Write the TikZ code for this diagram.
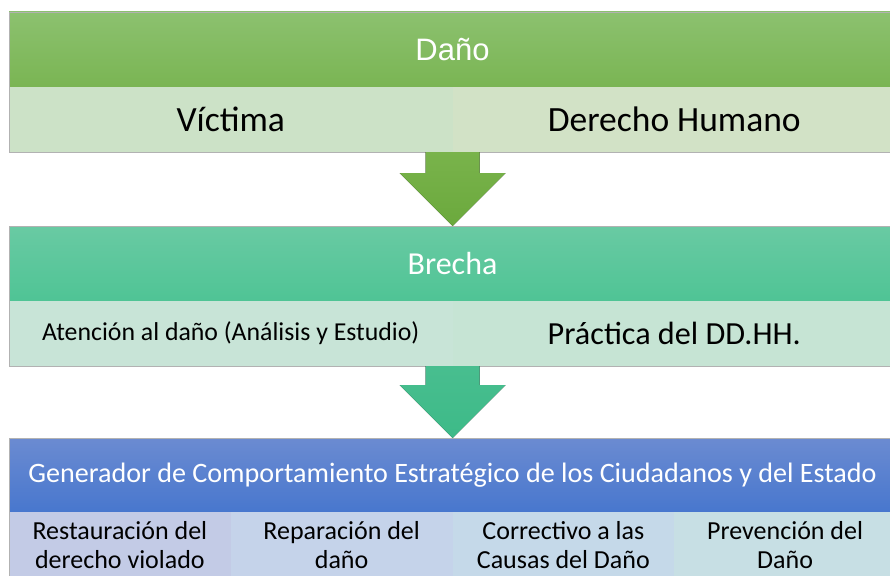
\documentclass[tikz,border=0pt]{standalone}
\usepackage{fontspec}
\setmainfont{Carlito}
\newfontfamily\arialfont{Liberation Sans}
\usetikzlibrary{calc}

\definecolor{verdeTop}{HTML}{8CC16F}
\definecolor{verdeBot}{HTML}{7AB553}
\definecolor{verdeCelA}{HTML}{CCE2C7}
\definecolor{verdeCelB}{HTML}{D2E2C6}
\definecolor{flechaVerdeTop}{HTML}{79B34B}
\definecolor{flechaVerdeBot}{HTML}{6BA93D}
\definecolor{tealTop}{HTML}{69CAA3}
\definecolor{tealBot}{HTML}{4FC495}
\definecolor{tealCelA}{HTML}{C8E4D7}
\definecolor{tealCelB}{HTML}{C6E4D4}
\definecolor{flechaTealTop}{HTML}{48BE8F}
\definecolor{flechaTealBot}{HTML}{3DBA88}
\definecolor{azulTop}{HTML}{6B8BD1}
\definecolor{azulBot}{HTML}{4877CE}
\definecolor{azulCelA}{HTML}{C3CBE6}
\definecolor{azulCelB}{HTML}{C5D3EA}
\definecolor{azulCelC}{HTML}{C5D9E9}
\definecolor{azulCelD}{HTML}{C7DFE4}

\begin{document}
\begin{tikzpicture}[x=1pt,y=-1pt]
        \tikzstyle{every node}=[inner sep=0pt, outer sep=0pt, anchor=north west]
        \tikzstyle{hdr}=[minimum width=887pt, minimum height=75pt, text=white, font=\fontsize{32}{36}\selectfont]
        \tikzstyle{cell2}=[minimum width=443.5pt, minimum height=65pt, font=\fontsize{35.5}{40}\selectfont]
        \tikzstyle{cell4}=[minimum width=221.75pt, minimum height=66pt, align=center, font=\fontsize{26}{29}\selectfont]
        \tikzstyle{borde}=[draw=black!30, line width=0.6pt]
        \useasboundingbox (0,0) rectangle (890,575);
        \clip (0,0) rectangle (890,575);
        % Dano
        \node[hdr, top color=verdeTop, bottom color=verdeBot, font=\arialfont\fontsize{31}{36}\selectfont] (dano) at (9,12) {Daño};
        \node[cell2, fill=verdeCelA] (victima) at (dano.south west) {Víctima};
        \node[cell2, fill=verdeCelB] (derecho) at (victima.north east) {Derecho Humano};
        \draw[borde] (dano.north west) rectangle (derecho.south east);
        % Brecha
        \node[hdr, top color=tealTop, bottom color=tealBot] (brecha) at (9,226) {Brecha};
        \node[cell2, fill=tealCelA, font=\fontsize{25.8}{30}\selectfont] (atencion) at (brecha.south west) {Atención al daño (Análisis y Estudio)};
        \node[cell2, fill=tealCelB, font=\fontsize{32.2}{36}\selectfont] (practica) at (atencion.north east) {Práctica del DD.HH.};
        \draw[borde] (brecha.north west) rectangle (practica.south east);
        % Generador
        \node[hdr, minimum height=74pt, top color=azulTop, bottom color=azulBot, font=\fontsize{28.1}{32}\selectfont] (gen) at (9,438) {Generador de Comportamiento Estratégico de los Ciudadanos y del Estado};
        \node[cell4, fill=azulCelA] (restaura) at (gen.south west) {Restauración del\\derecho violado};
        \node[cell4, fill=azulCelB] (repara) at (restaura.north east) {Reparación del\\daño};
        \node[cell4, fill=azulCelC] (corrige) at (repara.north east) {Correctivo a las\\Causas del Daño};
        \node[cell4, fill=azulCelD] (previene) at (corrige.north east) {Prevención del\\Daño};
        \draw[borde] (gen.north west) rectangle (previene.south east);
        % flechas
        \fill[top color=flechaVerdeTop, bottom color=flechaVerdeBot] ($(victima.south east)+(-27,0)$) -- ($(victima.south east)+(27,0)$) -- ($(brecha.north)+(27,-53)$) -- ($(brecha.north)+(53,-53)$) -- (brecha.north) -- ($(brecha.north)+(-53,-53)$) -- ($(brecha.north)+(-27,-53)$) -- cycle;
        \fill[top color=flechaTealTop, bottom color=flechaTealBot] ($(atencion.south east)+(-27,0)$) -- ($(atencion.south east)+(27,0)$) -- ($(gen.north)+(27,-53)$) -- ($(gen.north)+(53,-53)$) -- (gen.north) -- ($(gen.north)+(-53,-53)$) -- ($(gen.north)+(-27,-53)$) -- cycle;
    \end{tikzpicture}
\end{document}
